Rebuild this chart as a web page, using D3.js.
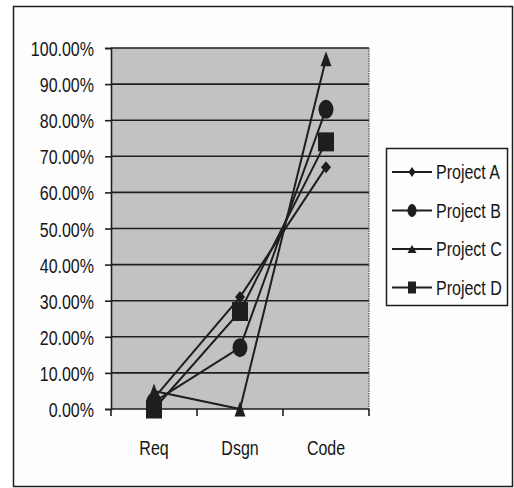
<!DOCTYPE html>
<html>
<head>
<meta charset="utf-8">
<script src="https://cdn.jsdelivr.net/npm/d3@7/dist/d3.min.js"></script>
<style>
  html, body { margin: 0; padding: 0; background: #ffffff; }
  svg { display: block; }
  text { font-family: "Liberation Sans", Arial, sans-serif; fill: #161616; }
</style>
</head>
<body>
<svg id="chart" width="514" height="488"></svg>
<script>
// Phases along the x axis
const phases = ["Req", "Dsgn", "Code"];
// Share of work per phase for each project
const projectA = [0.03, 0.31, 0.67];
const projectB = [0.02, 0.17, 0.83];
const projectC = [0.05, 0.00, 0.97];
const projectD = [0.00, 0.27, 0.74];
const seriesNames = ["Project A", "Project B", "Project C", "Project D"];
const seriesMarkers = ["diamond", "circle", "triangle", "square"];
const yTicks = [0, 0.1, 0.2, 0.3, 0.4, 0.5, 0.6, 0.7, 0.8, 0.9, 1.0];

const seriesValues = [projectA, projectB, projectC, projectD];

const svg = d3.select("#chart");
const ink = "#1e1e1e";
const narrow = 0.8; // horizontal squeeze for a condensed look
const fontSize = 20;

// place a text element at (tx, ty) squeezed horizontally
function squeeze(sel) {
  sel.each(function () {
    const t = d3.select(this);
    const tx = +t.attr("x") || 0, ty = +t.attr("y") || 0;
    t.attr("x", 0).attr("y", 0)
      .attr("transform", `translate(${tx},${ty}) scale(${narrow},1)`);
  });
}

// outer frame
svg.append("rect")
  .attr("x", 13.5).attr("y", 6.5).attr("width", 499).attr("height", 480)
  .attr("fill", "#fdfdfd").attr("stroke", ink).attr("stroke-width", 1.5);

const plot = { left: 111, right: 369, top: 48, bottom: 409 };

const x = d3.scaleBand().domain(phases).range([plot.left, plot.right]);
const y = d3.scaleLinear().domain([0, 1]).range([plot.bottom, plot.top]);

// plot background
svg.append("rect")
  .attr("x", plot.left).attr("y", plot.top)
  .attr("width", plot.right - plot.left).attr("height", plot.bottom - plot.top)
  .attr("fill", "#c2c2c2");

// gridlines
svg.append("g").selectAll("line")
  .data(yTicks.filter(t => t > 0))
  .join("line")
  .attr("x1", plot.left).attr("x2", plot.right)
  .attr("y1", d => y(d)).attr("y2", d => y(d))
  .attr("stroke", ink).attr("stroke-width", 1.6);

// right edge of plot area
svg.append("line")
  .attr("x1", plot.right).attr("x2", plot.right)
  .attr("y1", plot.top).attr("y2", plot.bottom)
  .attr("stroke", "#555").attr("stroke-width", 1.2).attr("stroke-dasharray", "1.5,1");

// y axis
const yAxis = d3.axisLeft(y).tickValues(yTicks)
  .tickFormat(d => (d * 100).toFixed(2) + "%")
  .tickSize(6).tickPadding(11);
const gy = svg.append("g").attr("transform", `translate(${plot.left},0)`).call(yAxis);
gy.select(".domain").attr("stroke", ink).attr("stroke-width", 1.6);
gy.selectAll(".tick line").attr("stroke", ink).attr("stroke-width", 1.6);
gy.selectAll(".tick text")
  .attr("font-size", fontSize).attr("fill", "#161616")
  .attr("dy", null).attr("y", 7.5)
  .style("font-family", "'Liberation Sans', Arial, sans-serif")
  .call(squeeze);

// x axis with ticks between categories
const xAxisG = svg.append("g");
xAxisG.append("line")
  .attr("x1", plot.left).attr("x2", plot.right)
  .attr("y1", plot.bottom).attr("y2", plot.bottom)
  .attr("stroke", ink).attr("stroke-width", 1.6);
const bounds = phases.map(p => x(p)).concat([x(phases[phases.length - 1]) + x.bandwidth()]);
xAxisG.selectAll("line.tk").data(bounds).join("line").attr("class", "tk")
  .attr("x1", d => d).attr("x2", d => d)
  .attr("y1", plot.bottom).attr("y2", plot.bottom + 7)
  .attr("stroke", ink).attr("stroke-width", 1.6);
xAxisG.selectAll("text").data(phases).join("text")
  .attr("x", d => x(d) + x.bandwidth() / 2)
  .attr("y", 455)
  .attr("text-anchor", "middle")
  .attr("font-size", fontSize)
  .text(d => d)
  .call(squeeze);

// marker shapes (slightly tall, as drawn in the chart)
function markerPath(kind, w, h) {
  const hw = w / 2, hh = h / 2;
  switch (kind) {
    case "diamond": return `M0,${-hh}L${hw},0L0,${hh}L${-hw},0Z`;
    case "triangle": return `M0,${-hh}L${hw},${hh}L${-hw},${hh}Z`;
    case "square": return `M${-hw},${-hh}H${hw}V${hh}H${-hw}Z`;
    default: return null;
  }
}
function drawMarker(g, kind, cx, cy, big) {
  if (kind === "circle") {
    g.append("ellipse").attr("cx", cx).attr("cy", cy)
      .attr("rx", big ? 7.5 : 4.5).attr("ry", big ? 9.5 : 6.5).attr("fill", ink);
  } else {
    const dims = {
      diamond: big ? [10, 12] : [7, 10],
      triangle: big ? [11, 15] : [9, 8],
      square: big ? [16, 19] : [8, 12]
    }[kind];
    g.append("path").attr("transform", `translate(${cx},${cy})`)
      .attr("d", markerPath(kind, dims[0], dims[1])).attr("fill", ink);
  }
}

const cx = p => x(p) + x.bandwidth() / 2;
const line = d3.line().x((d, i) => cx(phases[i])).y(d => y(d));

const marks = svg.append("g");
seriesValues.forEach(vals => {
  marks.append("path").datum(vals).attr("d", line)
    .attr("fill", "none").attr("stroke", ink).attr("stroke-width", 2);
});
seriesValues.forEach((vals, s) => {
  vals.forEach((v, i) => drawMarker(marks, seriesMarkers[s], cx(phases[i]), y(v), true));
});

// legend
const lg = svg.append("g");
lg.append("rect").attr("x", 386.5).attr("y", 148.5).attr("width", 121).attr("height", 157)
  .attr("fill", "#fdfdfd").attr("stroke", ink).attr("stroke-width", 1.5);
seriesNames.forEach((name, i) => {
  const ly = 172 + i * 38.5;
  lg.append("line").attr("x1", 392).attr("x2", 432).attr("y1", ly).attr("y2", ly)
    .attr("stroke", ink).attr("stroke-width", 2);
  drawMarker(lg, seriesMarkers[i], 412, ly, false);
  lg.append("text").attr("x", 436).attr("y", ly + 7).attr("font-size", fontSize).text(name)
    .call(squeeze);
});
</script>
</body>
</html>
